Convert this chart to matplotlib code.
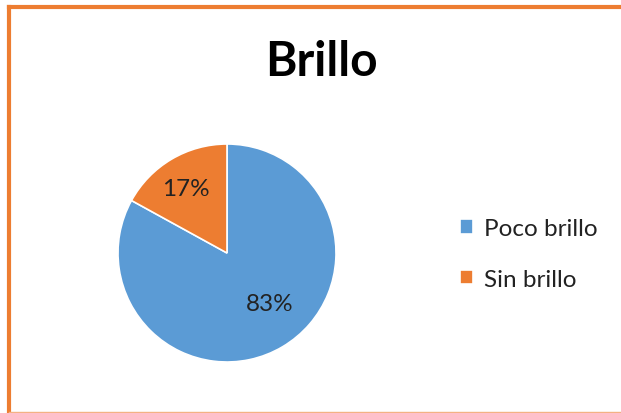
import numpy as np
import matplotlib.pyplot as plt
from matplotlib.lines import Line2D

labels = ["Poco brillo", "Sin brillo"]
values = [83, 17]
colors = ["#5B9BD5", "#ED7D31"]
title = "Brillo"

W, H = 621, 414
fig = plt.figure(figsize=(W / 100, H / 100), dpi=100)
plt.rcParams['font.family'] = ['Lato', 'DejaVu Sans']

# pie axes: center ~(227, 254), radius ~109 px
cx, cy, r = 227, 254, 109
ax = fig.add_axes([(cx - r) / W, 1 - (cy + r) / H, 2 * r / W, 2 * r / H])
wedges, texts, autotexts = ax.pie(values, colors=colors, startangle=90, counterclock=False,
                                  autopct='%1.0f%%', pctdistance=0.68,
                                  wedgeprops=dict(edgecolor='white', linewidth=1.2),
                                  textprops=dict(fontsize=17.5, color='#222222'))
# label placement as in the original (angle in degrees, distance from centre)
for t, (ang, dist) in zip(autotexts, [(-50, 0.61), (122.6, 0.70)]):
    a = np.deg2rad(ang)
    t.set_position((dist * np.cos(a), dist * np.sin(a)))
ax.set_xlim(-1, 1)
ax.set_ylim(-1, 1)
ax.set_aspect('equal')

fig.text(321 / W, 1 - 62 / H, title, ha='center', va='center', fontsize=34.5,
         fontweight='bold', color='black')

leg = fig.legend(wedges, labels, loc='center left', bbox_to_anchor=(460 / W, 1 - 255 / H),
                 frameon=False, fontsize=17.5, handlelength=0.55, handleheight=0.55,
                 handletextpad=0.45, labelspacing=1.2, borderpad=0, borderaxespad=0)
for t in leg.get_texts():
    t.set_color('#222222')

# orange frame
orange = "#ED7D31"
fig.add_artist(Line2D([9 / W, 9 / W], [1 - 8 / H, 0], transform=fig.transFigure,
                      color=orange, linewidth=3))
fig.add_artist(Line2D([9 / W, 1], [1 - 8 / H, 1 - 8 / H], transform=fig.transFigure,
                      color=orange, linewidth=3))
fig.add_artist(Line2D([9 / W, 1], [1 - 412.5 / H, 1 - 412.5 / H], transform=fig.transFigure,
                      color="#F4B183", linewidth=1))

plt.savefig("out.png", dpi=100)
